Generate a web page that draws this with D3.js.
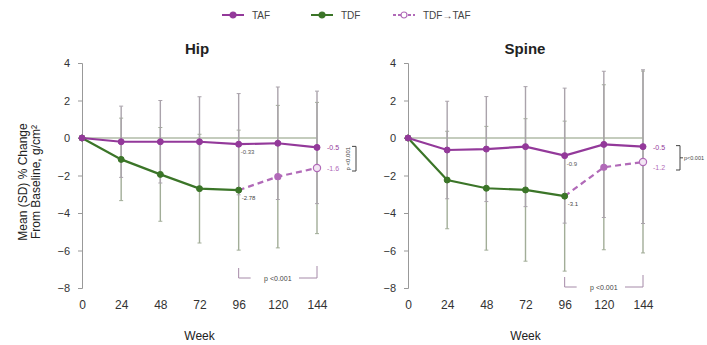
<!DOCTYPE html>
<html>
<head>
<meta charset="utf-8">
<script src="https://cdn.jsdelivr.net/npm/d3@7"></script>
<style>
  body { margin: 0; background: #fff; }
  text { font-family: "Liberation Sans", Arial, sans-serif; }
</style>
</head>
<body>
<div id="chart"></div>
<script>
!(function () {
  // - - - - - - - - - -
  // data
  const weeks = [0, 24, 48, 72, 96, 120, 144];
  const weeksSwitch = [96, 120, 144];
  const yTicks = [4, 2, 0, -2, -4, -6, -8];

  const hipTAF = [0, -0.2, -0.2, -0.2, -0.33, -0.28, -0.5];
  const hipTAFsd = [0, 1.9, 2.2, 2.4, 2.7, 3.0, 3.0];
  const hipTDF = [0, -1.14, -1.94, -2.7, -2.78];
  const hipTDFsd = [0, 2.2, 2.5, 2.9, 3.2];
  const hipSwitch = [-2.78, -2.06, -1.6];
  const hipSwitchSd = [0, 3.8, 3.5];

  const spineTAF = [0, -0.64, -0.59, -0.46, -0.94, -0.34, -0.46];
  const spineTAFsd = [0, 2.6, 2.8, 3.2, 3.6, 3.9, 4.1];
  const spineTDF = [0, -2.24, -2.68, -2.77, -3.1];
  const spineTDFsd = [0, 2.6, 3.3, 3.8, 4.0];
  const spineSwitch = [-3.1, -1.56, -1.28];
  const spineSwitchSd = [0, 4.4, 4.85];

  const purple = '#93399a',
    purpleLight = '#b16ab8',
    green = '#3b7528',
    barTAF = '#aaa3ab',
    barTDF = '#a2ad98';

  const width = 707, height = 345;

  const svg = d3.select('#chart')
    .append('svg')
    .attr('width', width)
    .attr('height', height);

  // legend
  const legend = [
    { name: 'TAF', x: 222, color: purple, dash: null, open: false },
    { name: 'TDF', x: 311, color: green, dash: null, open: false },
    { name: 'TDF\u2192TAF', x: 393, color: purpleLight, dash: '3,2', open: true }
  ];
  legend.forEach(function (l) {
    const g = svg.append('g').attr('transform', 'translate(' + l.x + ',15)');
    g.append('line').attr('x1', 0).attr('x2', 22).attr('y1', 0).attr('y2', 0)
      .style('stroke', l.color).style('stroke-width', 2)
      .style('stroke-dasharray', l.dash);
    g.append('circle').attr('cx', 11).attr('cy', 0).attr('r', 3)
      .style('fill', l.open ? '#fff' : l.color).style('stroke', l.color).style('stroke-width', 1.2);
    g.append('text').attr('x', 30).attr('y', 3.5).text(l.name)
      .style('font-size', '10px').style('fill', '#444');
  });

  // y axis title
  const yt = svg.append('text')
    .attr('transform', 'translate(27,182) rotate(-90)')
    .attr('text-anchor', 'middle')
    .style('font-size', '12px').style('fill', '#222');
  yt.append('tspan').attr('x', 0).attr('dy', 0).text('Mean (SD) % Change');
  yt.append('tspan').attr('x', 0).attr('dy', 13).text('From Baseline, g/cm\u00b2');

  function panel(opt) {
    const x = d3.scaleLinear().domain([0, 144]).range([opt.left, opt.left + 235]);
    const y = d3.scaleLinear().domain([-8, 4]).range([288, 63]);
    const g = svg.append('g');

    // title
    g.append('text').attr('x', opt.titleX).attr('y', 54).attr('text-anchor', 'middle')
      .style('font-size', '15px').style('font-weight', 'bold').style('fill', '#222')
      .text(opt.title);

    // y axis
    const ya = g.append('g').attr('transform', 'translate(' + opt.left + ',0)')
      .call(d3.axisLeft(y).tickValues(yTicks).tickSize(4).tickPadding(8));
    ya.select('.domain').style('stroke', '#999');
    ya.selectAll('.tick line').style('stroke', '#999');
    ya.selectAll('.tick text').style('font-size', '11px').style('fill', '#333')
      .style('font-family', '"Liberation Sans", Arial, sans-serif');

    // x axis (labels only)
    const xa = g.append('g').attr('transform', 'translate(0,290)')
      .call(d3.axisBottom(x).tickValues(weeks).tickSize(0).tickPadding(10));
    xa.select('.domain').remove();
    xa.selectAll('.tick text').style('font-size', '12px').style('fill', '#333')
      .style('font-family', '"Liberation Sans", Arial, sans-serif');

    g.append('text').attr('x', x(72)).attr('y', 340).attr('text-anchor', 'middle')
      .style('font-size', '12px').style('fill', '#222').text('Week');

    // zero line
    g.append('line').attr('x1', x(0)).attr('x2', x(144)).attr('y1', y(0)).attr('y2', y(0))
      .style('stroke', '#c4ccbd').style('stroke-width', 2);

    // error bars
    function bars(xs, means, sds, color) {
      const eb = g.append('g');
      xs.forEach(function (w, i) {
        if (!sds[i]) return;
        const lo = means[i] - sds[i], hi = means[i] + sds[i];
        eb.append('line').attr('x1', x(w)).attr('x2', x(w)).attr('y1', y(lo)).attr('y2', y(hi))
          .style('stroke', color).style('stroke-width', 1.4);
        [lo, hi].forEach(function (v) {
          eb.append('line').attr('x1', x(w) - 2).attr('x2', x(w) + 2).attr('y1', y(v)).attr('y2', y(v))
            .style('stroke', color).style('stroke-width', 1);
        });
      });
    }
    bars(weeks.slice(0, opt.tdf.length), opt.tdf, opt.tdfSd, barTDF);
    bars(weeksSwitch, opt.sw, opt.swSd, barTDF);
    bars(weeks, opt.taf, opt.tafSd, barTAF);

    const line = d3.line().x(function (d) { return x(d[0]); }).y(function (d) { return y(d[1]); });

    function series(xs, vals, color) {
      const pts = xs.map(function (w, i) { return [w, vals[i]]; });
      g.append('path').datum(pts).attr('d', line)
        .style('fill', 'none').style('stroke', color).style('stroke-width', 2.2);
      g.selectAll(null).data(pts).enter().append('circle')
        .attr('cx', function (d) { return x(d[0]); })
        .attr('cy', function (d) { return y(d[1]); })
        .attr('r', 3)
        .style('fill', color).style('stroke', color).style('stroke-width', 1);
    }
    g.append('path').datum(weeksSwitch.map(function (w, i) { return [w, opt.sw[i]]; }))
      .attr('d', line).style('fill', 'none').style('stroke', purpleLight)
      .style('stroke-width', 2.2).style('stroke-dasharray', '6,4');
    series(weeks.slice(0, opt.tdf.length), opt.tdf, green);
    series(weeks, opt.taf, purple);
    // switch markers (last one open)
    g.selectAll(null).data(weeksSwitch.slice(1)).enter().append('circle')
      .attr('cx', function (d) { return x(d); })
      .attr('cy', function (d, i) { return y(opt.sw[i + 1]); })
      .attr('r', function (d, i) { return i === 1 ? 3.6 : 3; })
      .style('fill', function (d, i) { return i === 1 ? '#f3e6f4' : purpleLight; })
      .style('stroke', purpleLight).style('stroke-width', 1.2);

    // value labels
    function label(tx, ty, s, color, size) {
      g.append('text').attr('x', tx).attr('y', ty).text(s)
        .style('font-size', size + 'px').style('fill', color);
    }
    label(x(96) + 2, y(opt.taf[4]) + 10, opt.labTAF96, '#555', 6);
    label(x(96) + 3, y(opt.tdf[4]) + 10, opt.labTDF96, '#444', 6);
    label(x(144) + 10, y(opt.taf[6]) + 3, opt.labTAF144, purple, 7);
    label(x(144) + 10, y(opt.sw[2]) + opt.swDy, opt.labSw144, purpleLight, 7);

    // p-value bracket at right
    const bx = opt.bracketX, by0 = y(opt.taf[6]) - 1, by1 = y(opt.sw[2]) + opt.swDy;
    g.append('path')
      .attr('d', 'M' + (bx - 4) + ',' + by0 + 'H' + bx + 'V' + by1 + 'H' + (bx - 4))
      .style('fill', 'none').style('stroke', '#444').style('stroke-width', 1);
    if (opt.rotP) {
      g.append('text').attr('transform', 'translate(' + (bx - 6) + ',' + ((by0 + by1) / 2) + ') rotate(-90)')
        .attr('text-anchor', 'middle').style('font-size', '6px').style('fill', '#444').text('p <0.001');
    } else {
      g.append('line').attr('x1', bx).attr('x2', bx + 3).attr('y1', (by0 + by1) / 2).attr('y2', (by0 + by1) / 2)
        .style('stroke', '#444');
      g.append('text').attr('x', bx + 4).attr('y', (by0 + by1) / 2 + 2)
        .style('font-size', '5.5px').style('fill', '#444').text('p<0.001');
    }

    // bottom bracket (week 96 vs 144)
    const pb = opt.pBottomY;
    const bb = g.append('g').style('stroke', '#a58aa8').style('fill', 'none').style('stroke-width', 1);
    bb.append('path').attr('d', 'M' + x(96) + ',' + (pb - 10) + 'V' + pb + 'H' + (x(96) + 12));
    bb.append('path').attr('d', 'M' + (x(144) - 18) + ',' + pb + 'H' + x(144) + 'V' + (pb - 12));
    g.append('text').attr('x', (x(96) + x(144)) / 2).attr('y', pb + 2.5).attr('text-anchor', 'middle')
      .style('font-size', '7px').style('fill', '#444').text('p <0.001');
  }

  panel({
    title: 'Hip', titleX: 197, left: 82,
    taf: hipTAF, tafSd: hipTAFsd, tdf: hipTDF, tdfSd: hipTDFsd, sw: hipSwitch, swSd: hipSwitchSd,
    labTAF96: '-0.33', labTDF96: '-2.78', labTAF144: '-0.5', labSw144: '-1.6', swDy: 3,
    bracketX: 356, rotP: true, pBottomY: 278
  });
  panel({
    title: 'Spine', titleX: 525, left: 408,
    taf: spineTAF, tafSd: spineTAFsd, tdf: spineTDF, tdfSd: spineTDFsd, sw: spineSwitch, swSd: spineSwitchSd,
    labTAF96: '-0.9', labTDF96: '-3.1', labTAF144: '-0.5', labSw144: '-1.2', swDy: 8,
    bracketX: 680, rotP: false, pBottomY: 287
  });

  // - - - - - - - - - -
}());
</script>
</body>
</html>
